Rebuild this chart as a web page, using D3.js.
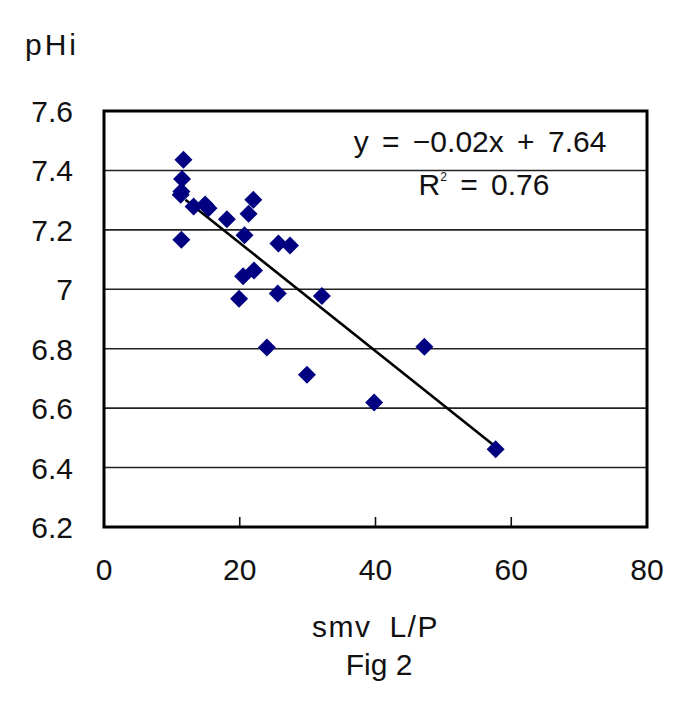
<!DOCTYPE html>
<html>
<head>
<meta charset="utf-8">
<script src="https://cdn.jsdelivr.net/npm/d3@7"></script>
<style>
  html, body { margin: 0; padding: 0; background: #fff; }
  svg text { font-family: "Liberation Sans", Arial, sans-serif; fill: #111; }
</style>
</head>
<body>
<svg id="chart" width="685" height="706"></svg>
<script>
const W = 685, H = 706;

// smv L/P vs pHi
const smv = [11.7, 11.5, 11.4, 11.3, 11.4, 13.2, 14.9, 15.4, 18.1, 22.0, 21.3, 20.7,
             25.7, 27.4, 20.5, 22.1, 19.9, 25.6, 32.1, 29.9, 24.0, 39.8, 47.2, 57.7];
const phi = [7.436, 7.371, 7.329, 7.318, 7.167, 7.279, 7.285, 7.273, 7.236, 7.301, 7.254, 7.182,
             7.154, 7.147, 7.044, 7.063, 6.968, 6.986, 6.977, 6.712, 6.804, 6.619, 6.807, 6.462];

const xTicks = [0, 20, 40, 60, 80];
const yTicks = [6.2, 6.4, 6.6, 6.8, 7.0, 7.2, 7.4, 7.6];
const yTickLabels = ["6.2", "6.4", "6.6", "6.8", "7", "7.2", "7.4", "7.6"];

// trendline as drawn (label is the rounded version)
const trendSlope = -0.0182;
const trendIntercept = 7.52;
const trendRange = [12.0, 57.7];

const margin = { left: 104, right: 38, top: 111, bottom: 179 };

const x = d3.scaleLinear().domain([0, 80]).range([margin.left, W - margin.right]);
const y = d3.scaleLinear().domain([6.2, 7.6]).range([H - margin.bottom, margin.top]);

const svg = d3.select("#chart");

// gridlines
svg.append("g")
  .selectAll("line")
  .data(yTicks.slice(1, -1))
  .enter()
  .append("line")
  .attr("x1", x(0))
  .attr("x2", x(80))
  .attr("y1", d => y(d))
  .attr("y2", d => y(d))
  .attr("stroke", "#222")
  .attr("stroke-width", 1.6);

// inner x ticks
svg.append("g")
  .selectAll("line")
  .data(xTicks.slice(1, -1))
  .enter()
  .append("line")
  .attr("x1", d => x(d))
  .attr("x2", d => x(d))
  .attr("y1", y(6.2))
  .attr("y2", y(6.2) - 10)
  .attr("stroke", "#111")
  .attr("stroke-width", 1.6);

// trendline
svg.append("line")
  .attr("x1", x(trendRange[0]))
  .attr("y1", y(trendIntercept + trendSlope * trendRange[0]))
  .attr("x2", x(trendRange[1]))
  .attr("y2", y(trendIntercept + trendSlope * trendRange[1]))
  .attr("stroke", "#000")
  .attr("stroke-width", 2.6);

// points
const pts = smv.map((v, i) => ({ x: v, y: phi[i] }));
svg.append("g")
  .selectAll("path")
  .data(pts)
  .enter()
  .append("path")
  .attr("d", "M0,-9L9,0L0,9L-9,0Z")
  .attr("transform", d => `translate(${x(d.x)},${y(d.y)})`)
  .attr("fill", "#000080");

// frame
svg.append("rect")
  .attr("x", x(0))
  .attr("y", y(7.6))
  .attr("width", x(80) - x(0))
  .attr("height", y(6.2) - y(7.6))
  .attr("fill", "none")
  .attr("stroke", "#000")
  .attr("stroke-width", 3);

// y tick labels
svg.append("g")
  .selectAll("text")
  .data(yTicks)
  .enter()
  .append("text")
  .attr("x", 73)
  .attr("y", d => y(d) + 11)
  .attr("text-anchor", "end")
  .attr("font-size", 30)
  .text((d, i) => yTickLabels[i]);

// x tick labels
svg.append("g")
  .selectAll("text")
  .data(xTicks)
  .enter()
  .append("text")
  .attr("x", d => x(d))
  .attr("y", 580)
  .attr("text-anchor", "middle")
  .attr("font-size", 30)
  .text(d => d);

// titles
svg.append("text")
  .attr("x", 25).attr("y", 55)
  .attr("font-size", 30)
  .attr("letter-spacing", 3)
  .text("pHi");

svg.append("text")
  .attr("x", (x(0) + x(80)) / 2).attr("y", 637)
  .attr("text-anchor", "middle")
  .attr("font-size", 30)
  .attr("letter-spacing", 1.5)
  .attr("word-spacing", 8)
  .text("smv L/P");

svg.append("text")
  .attr("x", 379).attr("y", 675)
  .attr("text-anchor", "middle")
  .attr("font-size", 30)
  .text("Fig 2");

// equation
svg.append("text")
  .attr("x", 480).attr("y", 152)
  .attr("text-anchor", "middle")
  .attr("font-size", 30)
  .attr("word-spacing", 5)
  .text("y = \u22120.02x + 7.64");

const r2 = svg.append("text")
  .attr("x", 484).attr("y", 195)
  .attr("text-anchor", "middle")
  .attr("font-size", 30)
  .attr("word-spacing", 5);
r2.append("tspan").text("R");
r2.append("tspan").attr("font-size", 12).attr("dy", -14).text("2");
r2.append("tspan").attr("dy", 14).text(" = 0.76");
</script>
</body>
</html>
